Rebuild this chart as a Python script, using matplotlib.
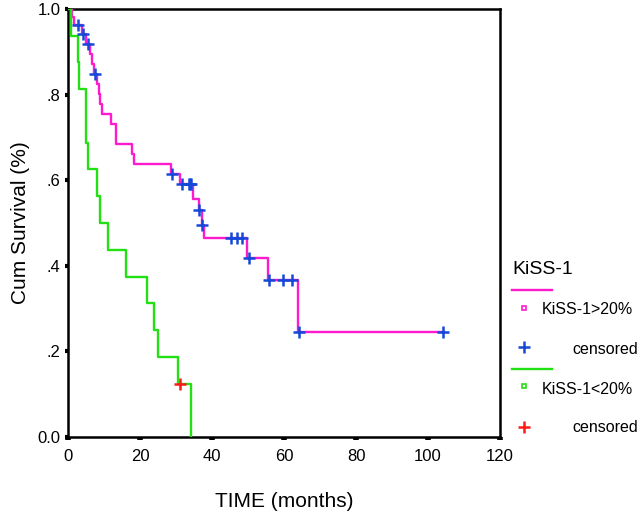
import numpy as np
import matplotlib
matplotlib.use("Agg")
import matplotlib.pyplot as plt
from matplotlib.lines import Line2D
from matplotlib.ticker import FixedLocator, FixedFormatter

plt.rcParams['font.family'] = ['Liberation Sans', 'DejaVu Sans']

# ---- data ----
# KiSS-1 > 20% : event times (months) and cumulative survival after each event
hi_times = [1.0, 1.8, 3.8, 5.0, 6.0, 6.7, 7.3, 8.0, 8.5, 9.0, 9.4, 12.0, 13.3,
            17.8, 18.3, 28.6, 31.1, 34.8, 36.4, 37.1, 37.8, 49.8, 55.5, 63.8]
hi_surv = [0.982, 0.963, 0.942, 0.919, 0.896, 0.872, 0.848, 0.825, 0.801, 0.778,
           0.754, 0.731, 0.685, 0.662, 0.638, 0.614, 0.591, 0.557, 0.531, 0.496,
           0.465, 0.419, 0.367, 0.246]
hi_censored = [2.7, 4.1, 5.6, 7.5, 28.8, 31.6, 33.6, 34.0, 34.3, 36.5, 37.3,
               45.4, 47.0, 48.2, 50.3, 55.9, 59.8, 62.3, 64.3, 104.3]

# KiSS-1 < 20%
lo_times = [0.9, 2.7, 3.1, 5.0, 5.5, 8.0, 8.9, 11.2, 16.1, 21.9, 24.0, 24.9, 30.6, 34.1]
lo_surv = [0.9375, 0.875, 0.8125, 0.6875, 0.625, 0.5625, 0.5, 0.4375, 0.375,
           0.3125, 0.25, 0.1875, 0.125, 0.0]
lo_censored = [31.1]

x_ticks = [0, 20, 40, 60, 80, 100, 120]
y_ticks = [0.0, 0.2, 0.4, 0.6, 0.8, 1.0]
y_tick_labels = ['0.0', '.2', '.4', '.6', '.8', '1.0']

legend_title = 'KiSS-1'
group_labels = ['KiSS-1>20%', 'KiSS-1<20%']
censor_label = 'censored'

c_hi = '#ff1ad0'
c_lo = '#22e012'
c_hi_cens = '#1548d8'
c_lo_cens = '#ff1a1a'


def surv_at(t, times, surv):
    idx = np.searchsorted(np.asarray(times), t, side='right') - 1
    return 1.0 if idx < 0 else surv[idx]


fig = plt.figure(figsize=(6.4, 5.17), dpi=100)
ax = fig.add_axes([68 / 640, 1 - 437 / 517, (500 - 68) / 640, (437 - 9) / 517])

# magenta curve, extended to last censored observation
hx = [0] + hi_times + [max(hi_censored)]
hy = [1.0] + hi_surv + [hi_surv[-1]]
ax.step(hx, hy, where='post', color=c_hi, lw=1.7, zorder=3)
ax.plot(hi_censored, [surv_at(t, hi_times, hi_surv) for t in hi_censored],
        ls='none', marker='+', ms=9, mew=1.8, color=c_hi_cens, zorder=4)

lx = [0] + lo_times
ly = [1.0] + lo_surv
ax.step(lx, ly, where='post', color=c_lo, lw=1.7, zorder=3)
ax.plot(lo_censored, [surv_at(t, lo_times, lo_surv) for t in lo_censored],
        ls='none', marker='+', ms=9, mew=1.8, color=c_lo_cens, zorder=4)

ax.set_xlim(0, 120)
ax.set_ylim(0, 1.0)
ax.xaxis.set_major_locator(FixedLocator(x_ticks))
ax.yaxis.set_major_locator(FixedLocator(y_ticks))
ax.yaxis.set_major_formatter(FixedFormatter(y_tick_labels))
ax.tick_params(axis='x', length=2.5, width=4, direction='out', labelsize=12, pad=6)
ax.tick_params(axis='y', length=2.5, width=3, direction='out', labelsize=12, pad=3)
for s in ax.spines.values():
    s.set_linewidth(1.8)
    s.set_color('black')

ax.set_xlabel('TIME (months)', fontsize=15, labelpad=20)
ax.set_ylabel('Cum Survival (%)', fontsize=15, labelpad=5)

# ---- legend (drawn manually like SPSS) ----
def fx(px):
    return px / 640


def fy(py):
    return 1 - py / 517

fig.text(fx(512), fy(270), legend_title, fontsize=14, va='center', ha='left')
fig.add_artist(Line2D([fx(512), fx(552)], [fy(290), fy(290)], color=c_hi, lw=1.7))
fig.add_artist(Line2D([fx(524)], [fy(308)], ls='none', marker='s', ms=3.5,
                      mfc='white', mec=c_hi, mew=1.2))
fig.text(fx(542), fy(310), group_labels[0], fontsize=11.5, va='center', ha='left')
fig.add_artist(Line2D([fx(524)], [fy(347)], ls='none', marker='+', ms=9,
                      mew=1.8, color=c_hi_cens))
fig.text(fx(572), fy(350), censor_label, fontsize=11.5, va='center', ha='left')
fig.add_artist(Line2D([fx(512), fx(552)], [fy(369), fy(369)], color=c_lo, lw=1.7))
fig.add_artist(Line2D([fx(524)], [fy(386)], ls='none', marker='s', ms=3.5,
                      mfc='white', mec=c_lo, mew=1.2))
fig.text(fx(542), fy(389), group_labels[1], fontsize=11.5, va='center', ha='left')
fig.add_artist(Line2D([fx(524)], [fy(427)], ls='none', marker='+', ms=9,
                      mew=1.8, color=c_lo_cens))
fig.text(fx(572), fy(428), censor_label, fontsize=11.5, va='center', ha='left')

fig.savefig('out.png', dpi=100)
